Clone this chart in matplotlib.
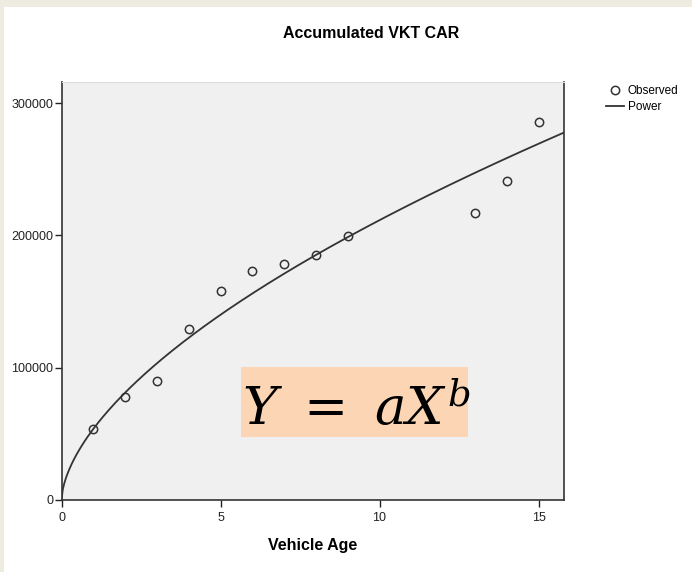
import numpy as np
import matplotlib
matplotlib.use("Agg")
import matplotlib.pyplot as plt
from matplotlib.patches import Rectangle

# Observed accumulated VKT by vehicle age
vehicle_age = [1, 2, 3, 4, 5, 6, 7, 8, 9, 13, 14, 15]
accumulated_vkt = [53700, 77900, 90000, 129200, 158000, 173100,
                   178400, 185200, 199500, 216900, 241100, 285700]
y_ticks = [0, 100000, 200000, 300000]
x_ticks = [0, 5, 10, 15]

plt.rcParams['font.family'] = ['Liberation Sans', 'DejaVu Sans']
plt.rcParams['mathtext.fontset'] = 'dejavuserif'

fig = plt.figure(figsize=(6.92, 5.72), dpi=100)
fig.patch.set_facecolor('#eeebe0')
# white page inside the beige frame
fig.patches.append(Rectangle((4 / 692, 0), 1, 1 - 7 / 572, transform=fig.transFigure,
                             facecolor='white', edgecolor='none', zorder=-10))

ax = fig.add_axes([0.0889, 0.1259, 0.7261, 0.7307])
ax.set_facecolor('#f0f0f0')

# power fit Y = a*X^b via log-log regression
x = np.array(vehicle_age, dtype=float)
y = np.array(accumulated_vkt, dtype=float)
b, log_a = np.polyfit(np.log(x), np.log(y), 1)
a = np.exp(log_a)
xs = np.linspace(0, 15.8, 400)
ax.plot(xs, a * xs ** b, color='#333333', lw=1.3, label='Power', zorder=3)
ax.plot(x, y, 'o', ms=6, mfc='none', mec='#333333', mew=1.1, label='Observed', zorder=4)

ax.set_xlim(0, 15.8)
ax.set_ylim(0, 316000)
ax.set_xticks(x_ticks)
ax.set_yticks(y_ticks)
ax.set_yticklabels([str(t) for t in y_ticks])
ax.tick_params(direction='out', length=5, width=1, labelsize=9, colors='#222222', pad=1)
ax.tick_params(axis='x', pad=4)
for s in ax.spines.values():
    s.set_color('#333333')
    s.set_linewidth(1.2)
ax.spines['top'].set_color('#dddddd')
ax.spines['top'].set_linewidth(0.8)

ax.set_xlabel('Vehicle Age', fontsize=11.5, fontweight='bold', labelpad=10)
fig.text(0.537, 0.942, 'Accumulated VKT CAR', ha='center', va='center',
         fontsize=11.5, fontweight='bold')

# equation box
ax.add_patch(Rectangle((0.357, 0.151), 0.452, 0.167, transform=ax.transAxes,
                       facecolor='#fcd5b4', edgecolor='none', zorder=5))
ax.text(0.587, 0.215, r'$Y\ =\ aX^{b}$', transform=ax.transAxes, ha='center',
        va='center', fontsize=38, zorder=6)

handles, labels = ax.get_legend_handles_labels()
fig.legend(handles[::-1], labels[::-1], loc='upper left', bbox_to_anchor=(0.875, 0.851),
           frameon=False, fontsize=8.5, handlelength=1.6, handletextpad=0.3,
           labelspacing=0.3, borderpad=0, borderaxespad=0)

fig.savefig('out.png', dpi=100, facecolor=fig.get_facecolor())
